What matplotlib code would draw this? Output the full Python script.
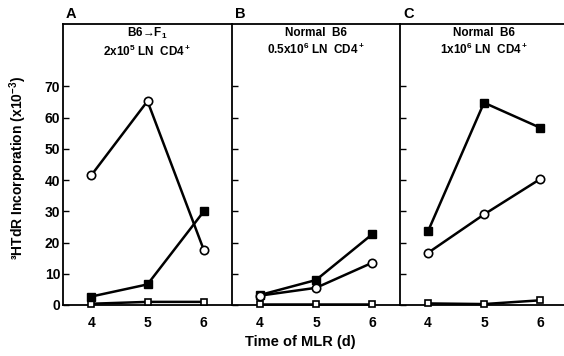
import numpy as np
import matplotlib.pyplot as plt

plt.rcParams['font.family'] = ['Liberation Sans', 'DejaVu Sans']
plt.rcParams['font.weight'] = 'bold'
plt.rcParams['mathtext.fontset'] = 'custom'
plt.rcParams['mathtext.rm'] = 'Liberation Sans:bold'
plt.rcParams['mathtext.bf'] = 'Liberation Sans:bold'
plt.rcParams['mathtext.it'] = 'Liberation Sans:bold'

days = [4, 5, 6]
panel_letters = ['A', 'B', 'C']
panel_titles = ['B6\u2192F$_1$\n2x10$^5$ LN  CD4$^+$',
                'Normal  B6\n0.5x10$^6$ LN  CD4$^+$',
                'Normal  B6\n1x10$^6$ LN  CD4$^+$']

# values (x10^-3 cpm)
filled_sq = [[2.7, 6.6, 30.0], [3.2, 8.0, 22.6], [23.6, 64.8, 56.8]]
open_circ = [[41.5, 65.3, 17.6], [3.0, 5.5, 13.5], [16.7, 29.0, 40.3]]
open_sq = [[0.4, 1.0, 1.0], [0.3, 0.3, 0.3], [0.5, 0.3, 1.5]]

W, H = 564, 356
fig = plt.figure(figsize=(W / 100, H / 100), dpi=100)

edges = [63, 232, 400, 568]
top, bottom = 24, 305

for i in range(3):
    x0, x1 = edges[i], edges[i + 1]
    ax = fig.add_axes([x0 / W, 1 - bottom / H, (x1 - x0) / W, (bottom - top) / H])
    ax.plot(days, open_sq[i], '-', color='black', lw=1.8, marker='s', ms=4.5,
            mfc='white', mec='black', mew=1.2, clip_on=False, zorder=3)
    ax.plot(days, filled_sq[i], '-', color='black', lw=1.8, marker='s', ms=5.5,
            mfc='black', mec='black', clip_on=False, zorder=4)
    ax.plot(days, open_circ[i], '-', color='black', lw=1.8, marker='o', ms=6,
            mfc='white', mec='black', mew=1.2, clip_on=False, zorder=5)
    ax.set_xlim(3.5, 6.5)
    ax.set_ylim(0, 90)
    ax.set_xticks(days)
    ax.set_yticks(np.arange(0, 80, 10))
    ax.tick_params(axis='x', length=0, pad=8, labelsize=10)
    ax.tick_params(axis='y', direction='in', length=4, width=1, pad=2, labelsize=10)
    if i > 0:
        ax.tick_params(axis='y', labelleft=False)
    ax.spines['right'].set_visible(False)
    for s in ['left', 'top', 'bottom']:
        ax.spines[s].set_linewidth(1.3)
    for lab in ax.get_xticklabels() + ax.get_yticklabels():
        lab.set_fontweight('bold')
    ax.text(0.5, 0.935, panel_titles[i], transform=ax.transAxes, ha='center',
            va='center', fontsize=8.5, fontweight='bold', linespacing=1.2)
    fig.text((x0 + 3) / W, 1 - 14 / H, panel_letters[i], fontsize=10.5,
             fontweight='bold', ha='left', va='center')

fig.text(300 / W, 1 - 342 / H, 'Time of MLR (d)', ha='center', va='center',
         fontsize=10.5, fontweight='bold')
fig.text(18 / W, 1 - 168 / H, '\u00b3HTdR Incorporation (x10$^{-3}$)',
         rotation=90, ha='center', va='center', fontsize=10, fontweight='bold')

fig.savefig('out.png', dpi=100)
